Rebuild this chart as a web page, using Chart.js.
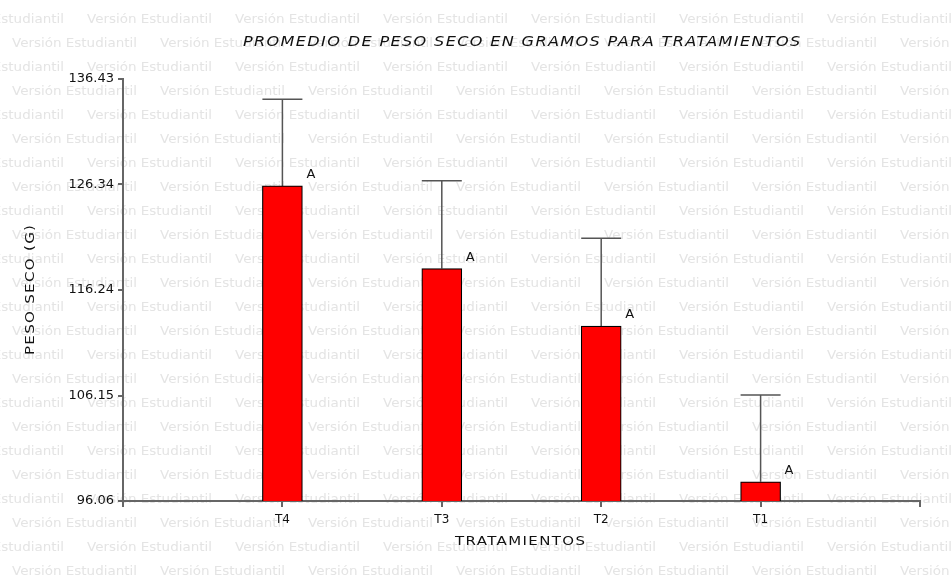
<!DOCTYPE html>
<html>
<head>
<meta charset="utf-8">
<script src="https://cdn.jsdelivr.net/npm/chart.js@4/dist/chart.umd.min.js"></script>
<style>
  html, body { margin: 0; padding: 0; background: #fff; }
  #wrap { width: 951px; height: 575px; position: relative; }
</style>
</head>
<body>
<div id="wrap"><canvas id="chart" width="951" height="575"></canvas></div>
<script>
// data
const categories = ["", "T4", "T3", "T2", "T1", ""];
const means      = [null, 126.2, 118.3, 112.8, 97.9, null];
const errTops    = [null, 134.5, 126.7, 121.2, 106.2, null];
const letters    = [null, "A", "A", "A", "A", null];
const yTicks     = [96.06, 106.15, 116.24, 126.34, 136.43];
const yTickLabels = ["96.06", "106.15", "116.24", "126.34", "136.43"];

const FONT = "'DejaVu Sans', sans-serif";
const AXIS = "#666";

// draw text stretched to a target width (half spacing, half horizontal scale)
function fitText(ctx, text, x, y, target, mix = 0.5) {
  ctx.letterSpacing = "0px";
  const w = ctx.measureText(text).width;
  const sx = 1 + ((target / w) - 1) * mix;
  const ls = (target / sx - w) / Math.max(1, text.length - 1);
  ctx.save();
  ctx.translate(x, y);
  ctx.scale(sx, 1);
  ctx.letterSpacing = ls.toFixed(2) + "px";
  ctx.fillText(text, 0, 0);
  ctx.restore();
}

const watermark = {
  id: "watermark",
  beforeDraw(chart) {
    const ctx = chart.ctx;
    ctx.save();
    ctx.fillStyle = "#fff";
    ctx.fillRect(0, 0, chart.width, chart.height);
    ctx.fillStyle = "#e4e4e4";
    ctx.font = "12px " + FONT;
    ctx.textBaseline = "middle";
    ctx.textAlign = "left";
    const txt = "Versión Estudiantil";
    for (let k = -1; k < 25; k++) {
      const y = 20 + 24 * k;
      let x = (k % 2 === 0) ? -61 : 12;
      for (; x < chart.width; x += 148) fitText(ctx, txt, x, y, 125, 1);
    }
    ctx.restore();
  },
  beforeDatasetsDraw(chart) {
    // error bars, from mean up to the top value
    const ctx = chart.ctx, xs = chart.scales.x, ys = chart.scales.y;
    ctx.save();
    ctx.strokeStyle = "#555";
    ctx.lineWidth = 1.5;
    errTops.forEach((top, i) => {
      if (top === null) return;
      const x = xs.getPixelForValue(i);
      const y0 = ys.getPixelForValue(means[i]);
      const y1 = ys.getPixelForValue(top);
      ctx.beginPath();
      ctx.moveTo(x, y0); ctx.lineTo(x, y1);
      ctx.moveTo(x - 20, y1); ctx.lineTo(x + 20, y1);
      ctx.stroke();
    });
    ctx.restore();
  },
  afterDraw(chart) {
    const ctx = chart.ctx, xs = chart.scales.x, ys = chart.scales.y;
    ctx.save();
    ctx.fillStyle = "#111";
    // letters above the bars
    ctx.font = "13px " + FONT;
    ctx.textAlign = "left";
    ctx.textBaseline = "middle";
    letters.forEach((t, i) => {
      if (!t) return;
      ctx.fillText(t, xs.getPixelForValue(i) + 24, ys.getPixelForValue(means[i]) - 11);
    });
    // title
    ctx.font = "italic 14px " + FONT;
    fitText(ctx, "PROMEDIO DE PESO SECO EN GRAMOS PARA TRATAMIENTOS", 243, 42, 557);
    // x title
    ctx.font = "13px " + FONT;
    fitText(ctx, "TRATAMIENTOS", 455, 542, 130);
    // y title
    ctx.translate(31, 355);
    ctx.rotate(-Math.PI / 2);
    fitText(ctx, "PESO SECO (G)", 0, 0, 130);
    ctx.restore();
  }
};

new Chart(document.getElementById("chart"), {
  type: "bar",
  data: {
    labels: categories,
    datasets: [{
      data: means,
      backgroundColor: "#ff0000",
      borderColor: "#000",
      borderWidth: 1.2,
      borderSkipped: false,
      barThickness: 40,
    }],
  },
  options: {
    responsive: false,
    animation: false,
    events: [],
    layout: { padding: { left: 0, right: 31, top: 79, bottom: 0 } },
    plugins: { legend: { display: false }, tooltip: { enabled: false } },
    scales: {
      x: {
        offset: false,
        border: { color: AXIS, width: 2 },
        grid: { offset: false, drawOnChartArea: false, color: AXIS, lineWidth: 2, tickLength: 6 },
        ticks: { color: "#111", font: { family: FONT, size: 12 }, padding: 6, maxRotation: 0, autoSkip: false },
        afterFit(s) { s.height = 74; },
      },
      y: {
        min: yTicks[0],
        max: yTicks[yTicks.length - 1],
        border: { color: AXIS, width: 2 },
        grid: { drawOnChartArea: false, color: AXIS, lineWidth: 2, tickLength: 5 },
        afterBuildTicks(s) { s.ticks = yTicks.map(v => ({ value: v })); },
        ticks: {
          color: "#111",
          font: { family: FONT, size: 13 },
          padding: 4,
          callback: (v) => yTickLabels[yTicks.indexOf(v)] ?? "",
        },
        afterFit(s) { s.width = 123; },
      },
    },
  },
  plugins: [watermark],
});
</script>
</body>
</html>
